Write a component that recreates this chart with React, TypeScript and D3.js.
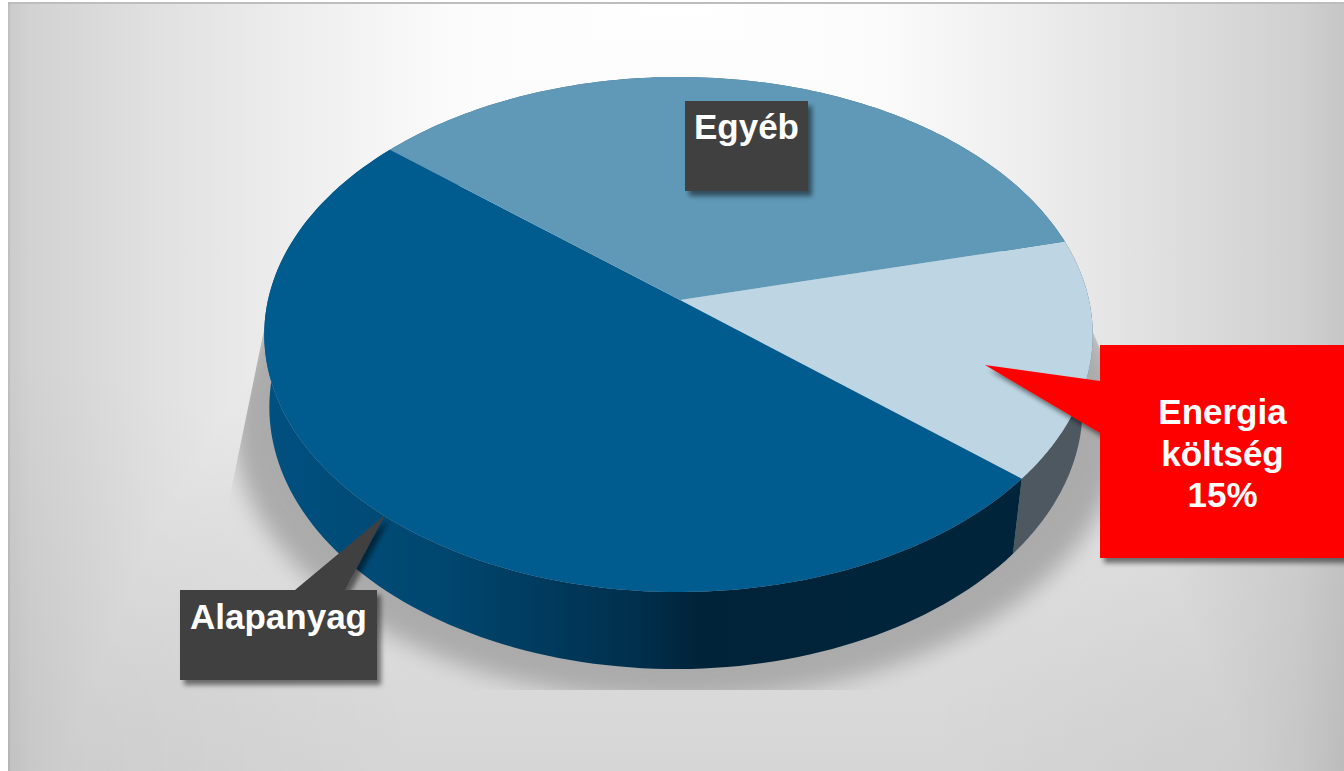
import React from "react";
import * as d3 from "d3";

// Cost structure shown on the tilted pie
const categories = ["Energia költség", "Alapanyag", "Egyéb"];
const shares = [15, 50, 35];
const topColors = ["#bed6e3", "#005b8e", "#6099b8"];
const sideStops = [
  [["0", "#4e5860"], ["1", "#4e5860"]],
  [["0", "#005080"], ["0.227", "#00476f"], ["0.36", "#003b5e"], ["0.49", "#002f4c"], ["0.573", "#002339"], ["1", "#00253a"]],
  [["0", "#3b6a85"], ["1", "#3b6a85"]],
];
const energyLines = ["Energia", "költség", "15%"];

// Panel shading: grey levels across the width and down the height
const panelAcross: [number, string][] = [
  [8, "#cbcbcb"], [30, "#d2d2d2"], [150, "#e0e0e0"], [300, "#eeeeee"], [450, "#fbfbfb"], [675, "#ffffff"],
  [880, "#fbfbfb"], [1000, "#f0f0f0"], [1100, "#e6e6e6"], [1200, "#dbdbdb"], [1300, "#d0d0d0"], [1344, "#c6c6c6"],
];
const panelDown: [number, string][] = [
  [0, "#ffffff"], [200, "#f8f8f8"], [350, "#ebebeb"], [500, "#e2e2e2"], [690, "#d9d9d9"], [771, "#d6d6d6"],
];

const W = 1344;
const H = 771;

// Perspective of the disc: u and v are unit-circle coordinates, w is the depth divisor
const DEPTH = 0.134;
const depthDivisor = d3.scaleLinear().domain([0, 1]).range([1, 1 + DEPTH]);
const topY = d3.scaleLinear().domain([0, 1]).range([300, 87.3]);
const bottomY = d3.scaleLinear().domain([0, 1]).range([372, 164.6]);

type Rim = { cx: number; spanX: number; y: (v: number) => number };
const APEX_X = 680;
const topRim: Rim = { cx: 678.5, spanX: 410.5, y: topY };
const bottomRim: Rim = { cx: 676, spanX: 403, y: bottomY };

function project(angle: number, rim: Rim): [number, number] {
  const u = Math.sin(angle);
  const v = Math.cos(angle);
  const w = depthDivisor(v);
  return [rim.cx + (rim.spanX * u) / w, rim.y(v) / w];
}

const pieAngles = d3
  .pie<number>()
  .sort(null)
  .startAngle((76.2 * Math.PI) / 180)
  .endAngle((76.2 * Math.PI) / 180 + 2 * Math.PI)(shares);

const line = d3.line();
const samples = (a: number, b: number) => d3.range(0, 121).map((i) => a + ((b - a) * i) / 120);

const topSlice = (a: number, b: number) =>
  line([[APEX_X, topY(0)], ...samples(a, b).map((t) => project(t, topRim))]) + "Z";

const sideSlice = (a: number, b: number) =>
  line([
    ...samples(a, b).map((t) => project(t, topRim)),
    ...samples(a, b).reverse().map((t) => project(t, bottomRim)),
  ]) + "Z";

const font = "'Liberation Sans', Arial, sans-serif";

function Callout({ x, y, w, h, fill, tail, children }: any) {
  const [bx0, by0, tipX, tipY, bx1, by1] = tail;
  const d =
    `M${x},${y}` +
    (by0 === y ? `L${bx0},${by0}L${tipX},${tipY}L${bx1},${by1}` : "") +
    `L${x + w},${y}L${x + w},${y + h}L${x},${y + h}` +
    (bx0 === x ? `L${bx1},${by1}L${tipX},${tipY}L${bx0},${by0}` : "") +
    "Z";
  return (
    <g>
      <path d={d} fill={fill} filter="url(#calloutShadow)" />
      {children}
    </g>
  );
}

export default function App() {
  return (
    <svg
      width={W}
      height={H}
      viewBox={`0 0 ${W} ${H}`}
      style={{ position: "absolute", left: 0, top: 0, display: "block" }}
    >
      <defs>
        <linearGradient id="panelAcross" gradientUnits="userSpaceOnUse" x1={0} x2={W} y1={0} y2={0}>
          {panelAcross.map(([p, c]) => (
            <stop key={p} offset={p / W} stopColor={c} />
          ))}
        </linearGradient>
        <linearGradient id="panelDown" gradientUnits="userSpaceOnUse" x1={0} x2={0} y1={0} y2={H}>
          {panelDown.map(([p, c]) => (
            <stop key={p} offset={p / H} stopColor={c} />
          ))}
        </linearGradient>
        <radialGradient id="cornerDim">
          <stop offset="0" stopColor="#000" stopOpacity={0.05} />
          <stop offset="1" stopColor="#000" stopOpacity={0} />
        </radialGradient>
        {sideStops.map((stops, i) => (
          <linearGradient
            key={i}
            id={`side${i}`}
            gradientUnits="userSpaceOnUse"
            x1={i === 1 ? 270 : 1012}
            x2={i === 1 ? 1020 : 1082}
            y1={0}
            y2={0}
          >
            {stops.map(([o, c]) => (
              <stop key={o} offset={o} stopColor={c} />
            ))}
          </linearGradient>
        ))}
        <filter id="discShadow" x="-10%" y="-10%" width="120%" height="120%">
          <feGaussianBlur stdDeviation="11" />
        </filter>
        <clipPath id="shadowClip">
          <path d="M264,330L228,505L240,690L1100,690L1200,560L1130,420L1092,330Z" />
        </clipPath>
        <clipPath id="panelClip">
          <rect x={8} y={3} width={W - 8} height={H - 3} />
        </clipPath>
        <filter id="calloutShadow" x="-10%" y="-10%" width="125%" height="125%">
          <feDropShadow dx="4" dy="5" stdDeviation="2.6" floodColor="#000" floodOpacity="0.5" />
        </filter>
      </defs>

      <g clipPath="url(#panelClip)">
        <g style={{ isolation: "isolate" }}>
          <rect x={8} y={3} width={W - 8} height={H - 3} fill="url(#panelAcross)" />
          <rect
            x={8}
            y={3}
            width={W - 8}
            height={H - 3}
            fill="url(#panelDown)"
            style={{ mixBlendMode: "darken" }}
          />
        </g>
        <circle cx={0} cy={H} r={420} fill="url(#cornerDim)" />
        <circle cx={W} cy={H} r={420} fill="url(#cornerDim)" />
      </g>
      <rect x={8} y={2} width={W - 8} height={2} fill="#bdbdbd" />
      <rect x={8} y={3} width={2} height={H - 3} fill="#000" opacity={0.06} />

      <g clipPath="url(#shadowClip)">
        <ellipse cx={678} cy={424} rx={445} ry={276} fill="#ababab" filter="url(#discShadow)" />
      </g>

      {pieAngles.map((a, i) => (
        <path key={categories[i]} d={sideSlice(a.startAngle, a.endAngle)} fill={`url(#side${i})`} />
      ))}
      {pieAngles.map((a, i) => (
        <path key={categories[i]} d={topSlice(a.startAngle, a.endAngle)} fill={topColors[i]} />
      ))}

      <Callout x={685} y={101} w={123} h={90} fill="#404040" tail={[0, 0, 0, 0, 0, 0]}>
        <text x={746.5} y={139} textAnchor="middle" fontFamily={font} fontWeight={700} fontSize={35} fill="#fff">
          {categories[2]}
        </text>
      </Callout>

      <Callout x={180} y={590} w={197} h={90} fill="#404040" tail={[295, 590, 385, 515, 345, 590]}>
        <text x={278.5} y={629} textAnchor="middle" fontFamily={font} fontWeight={700} fontSize={35} fill="#fff">
          {categories[1]}
        </text>
      </Callout>

      <Callout x={1100} y={345} w={250} h={213} fill="#ff0000" tail={[1100, 433, 985, 365, 1100, 381]}>
        {energyLines.map((t, i) => (
          <text
            key={t}
            x={1222.5}
            y={424 + i * 41.5}
            textAnchor="middle"
            fontFamily={font}
            fontWeight={700}
            fontSize={35}
            fill="#fff"
          >
            {t}
          </text>
        ))}
      </Callout>
    </svg>
  );
}
